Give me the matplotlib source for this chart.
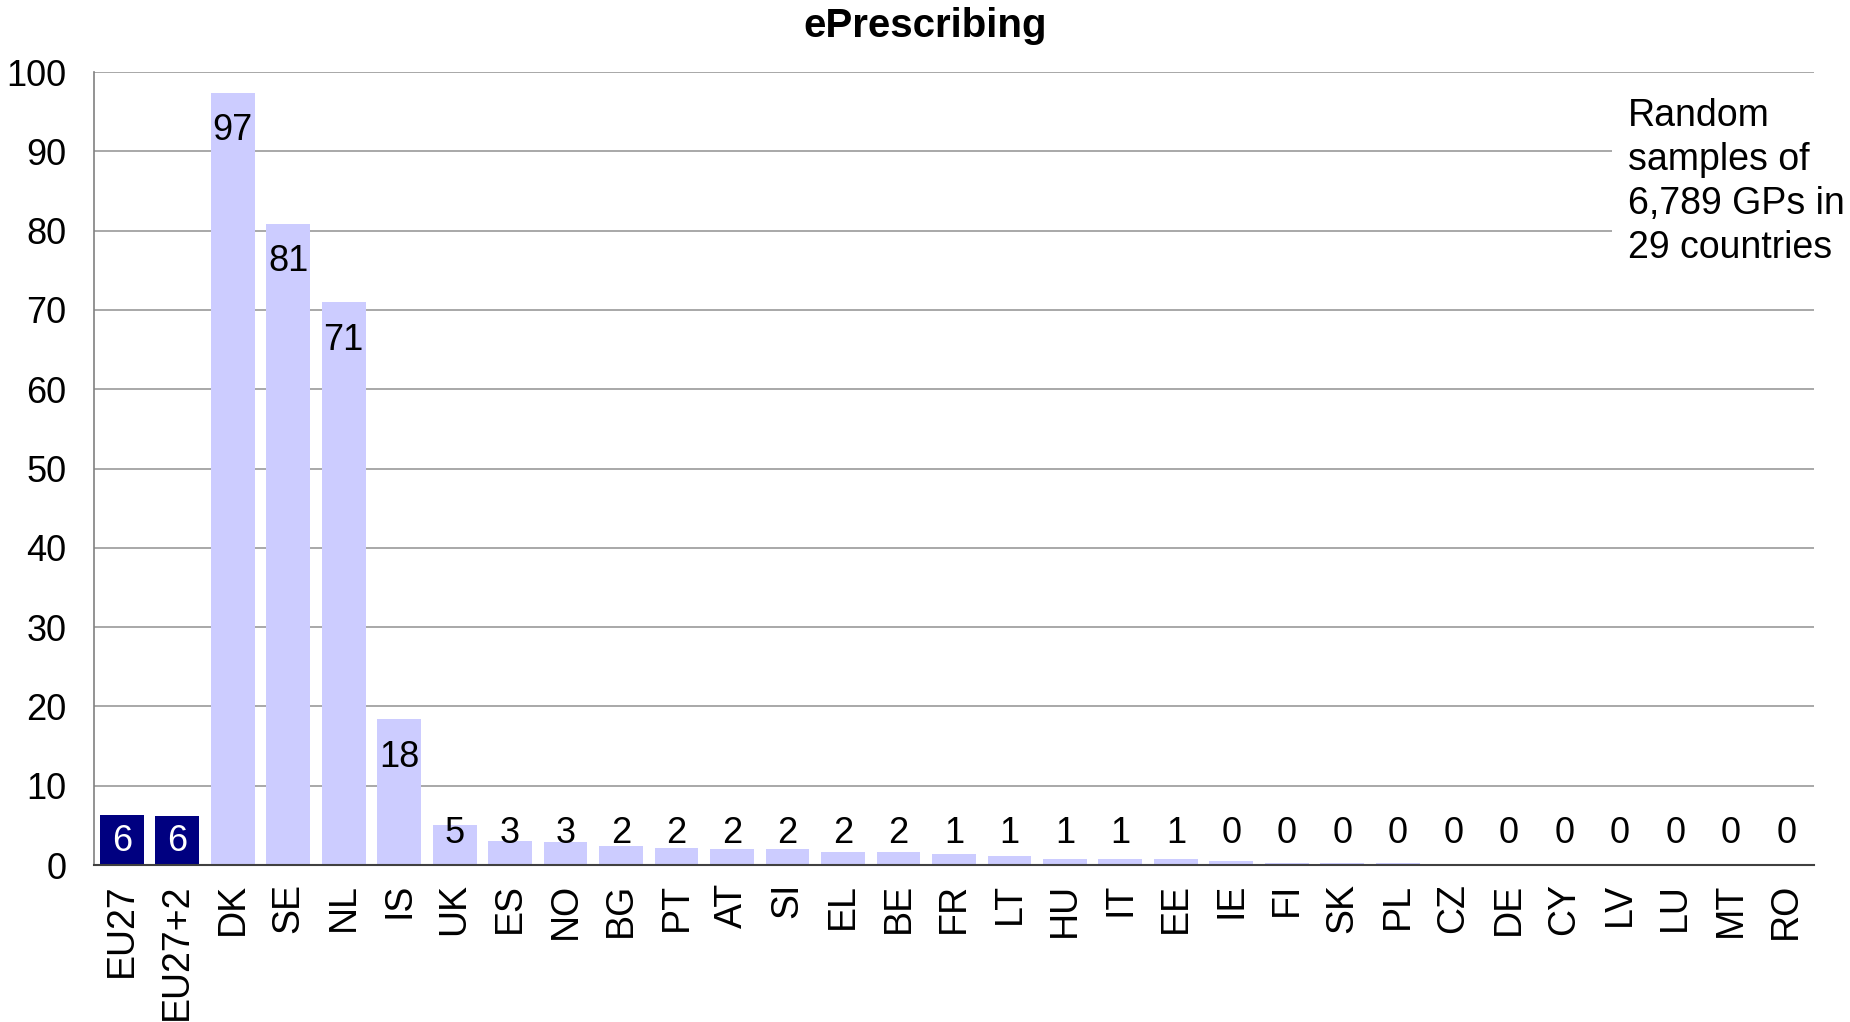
import numpy as np
import matplotlib
matplotlib.use("Agg")
from matplotlib import pyplot as plt

plt.rcParams['font.family'] = ['Liberation Sans', 'DejaVu Sans']

# data
countries = ["EU27", "EU27+2", "DK", "SE", "NL", "IS", "UK", "ES", "NO", "BG", "PT",
             "AT", "SI", "EL", "BE", "FR", "LT", "HU", "IT", "EE", "IE", "FI", "SK",
             "PL", "CZ", "DE", "CY", "LV", "LU", "MT", "RO"]
values = [6.3, 6.2, 97.4, 80.9, 71.0, 18.4, 5.1, 3.0, 2.9, 2.4, 2.2,
          2.0, 2.0, 1.6, 1.6, 1.4, 1.1, 0.8, 0.7, 0.7, 0.45, 0.3, 0.3,
          0.3, 0, 0, 0, 0, 0, 0, 0]
aggregates = ["EU27", "EU27+2"]

fig = plt.figure(figsize=(18.5, 10.22), dpi=100)
ax = fig.add_axes([0.0508, 0.1536, 0.9297, 0.7759])

x = np.arange(len(countries))
colors = ["#000080" if c in aggregates else "#CCCCFF" for c in countries]
ax.bar(x, values, width=0.79, color=colors, zorder=2)

for i in range(len(countries)):
    v = values[i]
    lab = str(int(v + 0.5))
    if countries[i] in aggregates:
        ax.text(x[i], 3.0, lab, ha="center", va="center", color="white", fontsize=26, zorder=3)
    elif v >= 10:
        ax.text(x[i], v - 4.8, lab, ha="center", va="center", color="black", fontsize=26, zorder=3)
    else:
        ax.text(x[i], 4.0, lab, ha="center", va="center", color="black", fontsize=26, zorder=3)

ax.set_xlim(-0.5, len(countries) - 0.5)
ax.set_ylim(0, 100)
ax.set_yticks(range(0, 101, 10))
ax.set_xticks(x)
ax.set_xticklabels(countries, rotation=90, fontsize=27)
ax.tick_params(axis="y", labelsize=26, length=0, pad=20)
ax.tick_params(axis="x", length=0, pad=13)
ax.grid(axis="y", color="#999999", linewidth=1.2, zorder=0)
ax.spines["top"].set_visible(False)
ax.spines["right"].set_visible(False)
ax.spines["left"].set_color("#808080")
ax.spines["bottom"].set_color("#404040")
ax.spines["left"].set_linewidth(1.2)
ax.spines["bottom"].set_linewidth(1.5)

fig.text(0.5, 1 - 26 / 1022, "ePrescribing", ha="center", va="center",
         fontsize=29, fontweight="bold")

fig.text(1628 / 1850, 1 - 98 / 1022, "Random\nsamples of\n6,789 GPs in\n29 countries",
         ha="left", va="top", fontsize=27, linespacing=1.29,
         bbox=dict(facecolor="white", edgecolor="none", pad=12), zorder=5)

plt.savefig("out.png", dpi=100)
